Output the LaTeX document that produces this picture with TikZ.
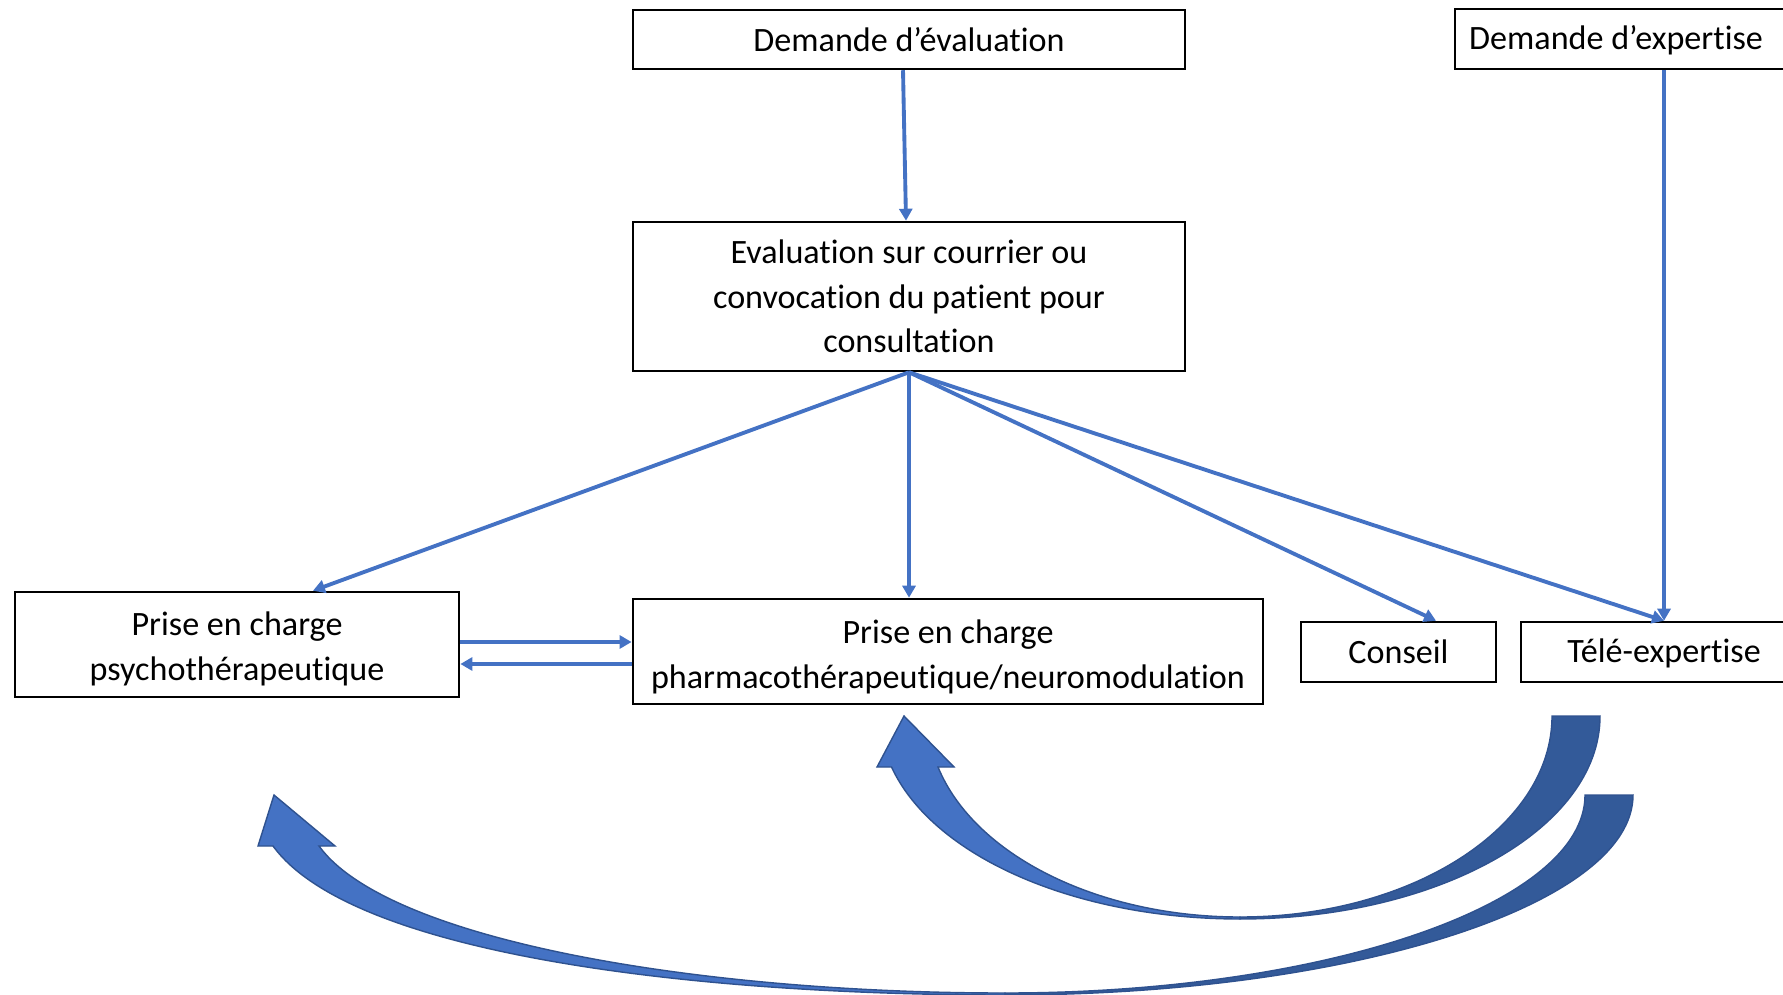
\documentclass[tikz,border=0pt]{standalone}
\usepackage{fontspec}
\setmainfont{Carlito}[Ligatures={TeX,NoCommon}]
\usepackage{tikz}
\usetikzlibrary{arrows.meta,positioning,calc}
\definecolor{lnblue}{HTML}{4472C4}
\definecolor{arrlight}{HTML}{4472C4}
\definecolor{arrdark}{HTML}{335A99}
\definecolor{arredge}{HTML}{2F528F}
\tikzset{
	box/.style={draw,line width=0.7pt,align=center,inner sep=0pt,font=\fontsize{9.7pt}{12.7pt}\selectfont},
	link/.style={->,lnblue,line width=1.1pt},
	bigarrow/.style={draw=arredge,line width=0.4pt},
	>={Triangle[length=1.2mm,width=1.3mm]}
}

\begin{document}
\begin{tikzpicture}[x=0.01cm,y=-0.01cm]
	\useasboundingbox (0,0) rectangle (1783,995);
	\node[box,minimum width=5.52cm,minimum height=0.59cm] (evaldem) at (909,39.5) {Demande d’évaluation};
	\node[box,minimum width=3.36cm,minimum height=0.60cm,text depth=0.8pt] (expdem) at (1623,39) {Demande d’expertise\hspace*{0.14cm}};
	\node[box,minimum width=5.52cm,minimum height=1.49cm] (evalbox) at (909,296.5) {Evaluation sur courrier ou\\convocation du patient pour\\consultation};
	\node[box,minimum width=4.44cm,minimum height=1.05cm] (psycho) at (237,644.5) {\rule{0pt}{9.3pt}Prise en charge\\psychothérapeutique};
	\node[box,minimum width=6.30cm,minimum height=1.05cm] (pharma) at (948,651.5) {\rule{0pt}{9.9pt}Prise en charge\\pharmacothérapeutique/neuromodulation};
	\node[box,minimum width=1.95cm,minimum height=0.60cm] (conseil) at (1398.5,652) {Conseil};
	\node[box,minimum width=2.86cm,minimum height=0.60cm,text depth=0.8pt] (tele) at (1664,652) {Télé-expertise};

	\draw[link] ($(evaldem.south)+(-6,0)$) -- ($(evalbox.north)+(-3,0)$);
	\draw[link] (expdem.south -| tele.north) -- (tele.north);
	\draw[link] (evalbox.south) -- ($(psycho.north west)!0.67!(psycho.north east)$);
	\draw[link] (evalbox.south) -- (evalbox.south |- pharma.north);
	\draw[link] (evalbox.south) -- ($(conseil.north west)!0.69!(conseil.north east)$);
	\draw[link] (evalbox.south) -- (tele.north);
	\draw[link] (psycho.east |- 0,642) -- (pharma.west |- 0,642);
	\draw[link] (pharma.west |- 0,664) -- (psycho.east |- 0,664);

	\filldraw[bigarrow,fill=arrdark] (1552,716) -- (1600,716) .. controls (1600,828) and (1439,919) .. (1240,919)
		-- (1240,917) .. controls (1412,917) and (1552,827) .. (1552,716) -- cycle;
	\filldraw[bigarrow,fill=arrlight] (1240,919) .. controls (1076,919) and (933,857) .. (891.5,767)
		-- (877,767) -- (904,716) -- (954,767) -- (938,767) .. controls (974,855) and (1098,917) .. (1240,917) -- cycle;
	\filldraw[bigarrow,fill=arrdark] (1585,795) -- (1633,795) .. controls (1633,905) and (1352,995) .. (1005,995)
		-- (1005,993) .. controls (1325,993) and (1585,904) .. (1585,795) -- cycle;
	\filldraw[bigarrow,fill=arrlight] (1005,995) .. controls (700,995) and (353,956) .. (273,846)
		-- (258,846) -- (274,795) -- (335,846) -- (319,846) .. controls (388,941) and (700,993) .. (1005,993) -- cycle;
\end{tikzpicture}
\end{document}
